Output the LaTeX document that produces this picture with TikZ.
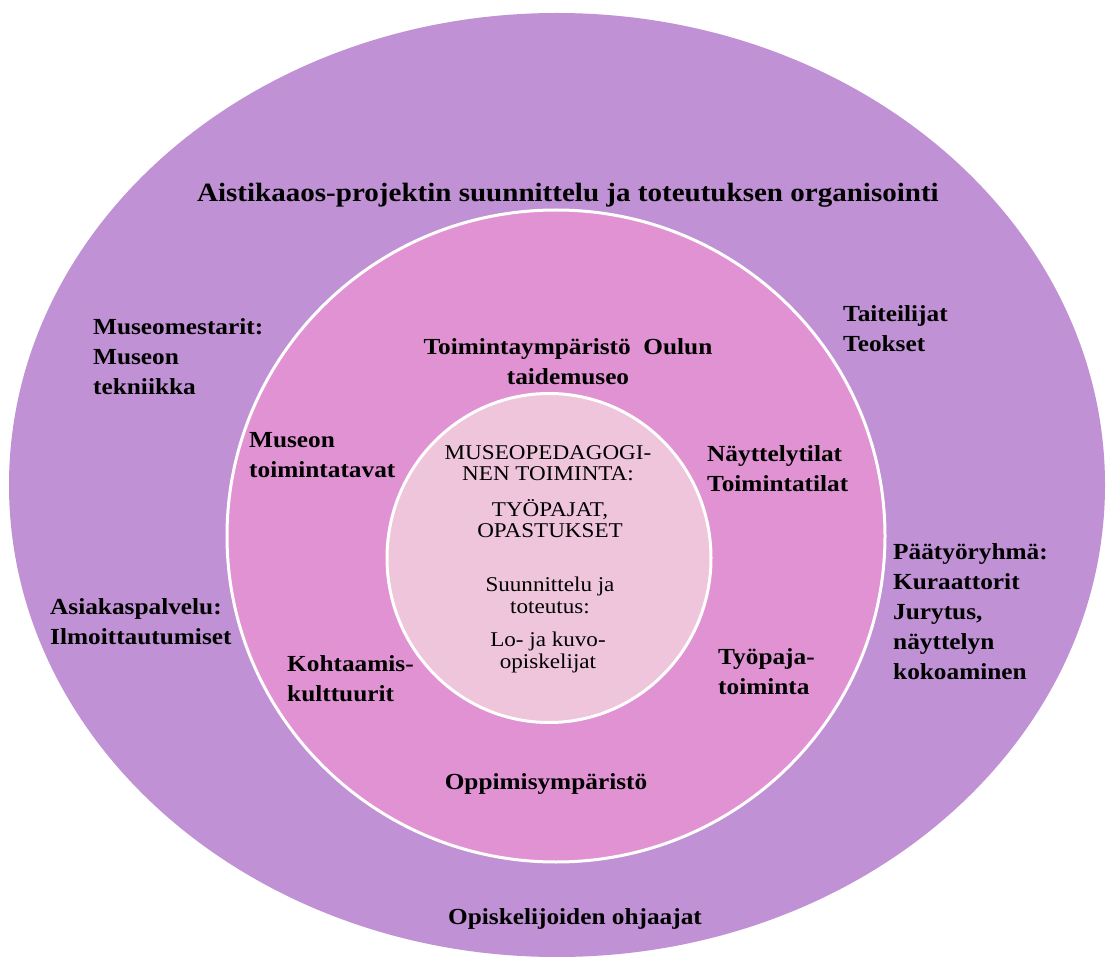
\documentclass[tikz,border=0pt]{standalone}
\usepackage{fontspec}
\setmainfont{Liberation Serif}[FakeStretch=1.1]
\usetikzlibrary{shapes.geometric}
\definecolor{ringouter}{RGB}{192,145,212}
\definecolor{ringmiddle}{RGB}{225,146,210}
\definecolor{ringinner}{RGB}{238,197,219}
\begin{document}
\begin{tikzpicture}[x=1pt,y=-1pt,
  ring/.style={ellipse, inner sep=0pt, outer sep=0pt},
  lab/.style={font=\fontsize{23}{30}\selectfont\bfseries, align=left, inner sep=0pt, text=black},
  labc/.style={lab, align=center},
  headline/.style={font=\fontsize{26.4}{30}\selectfont\bfseries, inner sep=0pt},
  core/.style={font=\fontsize{21}{21.5}\selectfont, align=center, inner sep=0pt}]
\fill[white] (0,0) rectangle (1106,957);
\useasboundingbox (0,0) rectangle (1106,957);

% three nested rings
\node[ring, fill=ringouter, minimum width=1096pt, minimum height=944pt] (outer) at (557,485) {};
\node[ring, fill=ringmiddle, draw=white, line width=3pt, minimum width=658pt, minimum height=652pt] (middle) at (556,536) {};
\node[ring, fill=ringinner, draw=white, line width=3pt, minimum width=324pt, minimum height=329pt] (inner) at (549,558) {};

% outer ring
\node[headline, anchor=north] (title) at (568,183) {Aistikaaos-projektin suunnittelu ja toteutuksen organisointi};
\node[lab, anchor=north west] (mestarit) at (93,318) {Museomestarit:\\Museon\\tekniikka};
\node[lab, anchor=north west] (asiakas) at (50,598) {Asiakaspalvelu:\\Ilmoittautumiset};
\node[lab, anchor=north west] (taiteilijat) at (843,305) {Taiteilijat\\Teokset};
\node[lab, anchor=north west] (tyoryhma) at (893,543) {Päätyöryhmä:\\Kuraattorit\\Jurytus,\\näyttelyn\\kokoaminen};
\node[labc, anchor=north] (ohjaajat) at (575,908) {Opiskelijoiden ohjaajat};

% middle ring
\node[labc, anchor=north] (ymparisto) at (568,338) {Toimintaympäristö\ \ Oulun\\taidemuseo};
\node[lab, anchor=north west] (tavat) at (249,432) {Museon\\toimintatavat};
\node[lab, anchor=north west] (tilat) at (707,445) {Näyttelytilat\\Toimintatilat};
\node[lab, anchor=north west] (kohtaamis) at (287,655) {Kohtaamis-\\kulttuurit};
\node[lab, anchor=north west] (tyopaja) at (718,648) {Työpaja-\\toiminta};
\node[labc, anchor=north] (oppimis) at (546,773) {Oppimisympäristö};

% inner circle
\node[core, anchor=north] (pedagogi) at (548,445) {MUSEOPEDAGOGI-\\NEN TOIMINTA:};
\node[core, anchor=north] (pajat) at (550,499) {TYÖPAJAT,\\OPASTUKSET};
\node[core, anchor=north] (suunnittelu) at (550,577) {Suunnittelu ja\\toteutus:};
\node[core, anchor=north] (opiskelijat) at (548,632) {Lo- ja kuvo-\\opiskelijat};
\end{tikzpicture}
\end{document}
